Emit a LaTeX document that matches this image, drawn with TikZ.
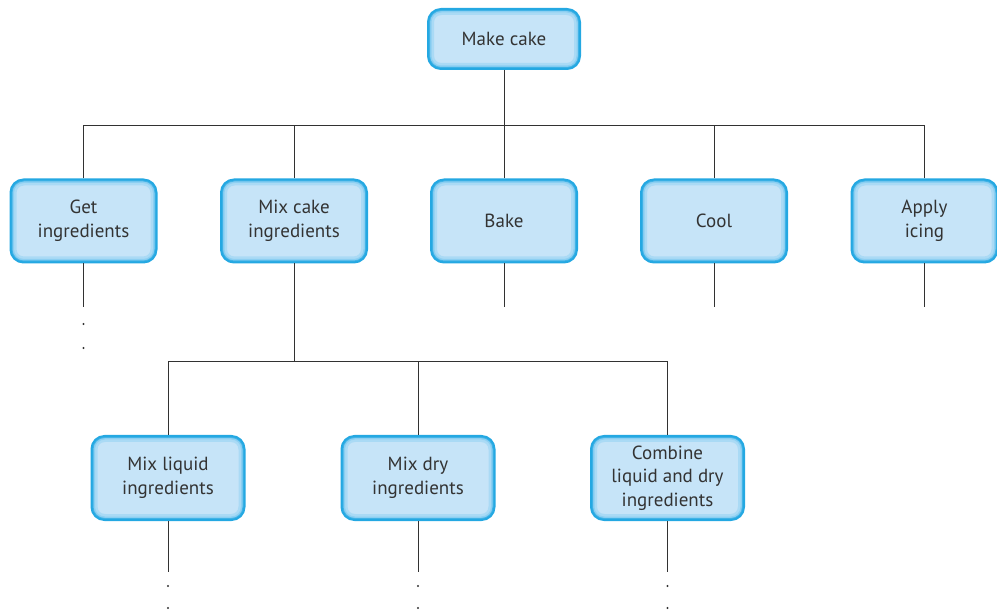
\documentclass[tikz,border=0pt]{standalone}
\usepackage{fontspec}
\setmainfont{PT Sans}
\definecolor{boxfill}{RGB}{198,228,248}
\definecolor{boxedge}{RGB}{36,168,226}
\definecolor{boxglow}{RGB}{120,200,240}
\definecolor{linecol}{RGB}{50,50,50}
\begin{document}
\begin{tikzpicture}[x=1pt,y=-1pt,
  taskbox/.style={draw=boxedge, line width=2pt, fill=boxfill, rounded corners=13pt,
    minimum width=146pt, minimum height=83pt, align=center, inner sep=2pt,
    font=\fontsize{19}{23.5}\selectfont, text=black!80,
    path picture={
      \draw[boxglow, opacity=0.35, line width=12pt, rounded corners=13pt]
        (path picture bounding box.south west) rectangle (path picture bounding box.north east);
      \draw[boxglow, opacity=0.6, line width=7pt, rounded corners=13pt]
        (path picture bounding box.south west) rectangle (path picture bounding box.north east);
      \draw[boxedge, opacity=0.7, line width=4pt, rounded corners=13pt]
        (path picture bounding box.south west) rectangle (path picture bounding box.north east);
    }},
  link/.style={draw=linecol, line width=0.9pt},
  dotmark/.style={fill=linecol}
]
\useasboundingbox (0,0) rectangle (997,612);

% top
\node[taskbox, minimum width=152pt, minimum height=60pt] (top) at (504,39) {Make cake};

% row 1
\node[taskbox] (get) at (83.5,221) {Get\\ingredients};
\node[taskbox] (mix) at (294,221) {Mix cake\\ingredients};
\node[taskbox] (bake) at (504,221) {Bake};
\node[taskbox] (cool) at (714,221) {Cool};
\node[taskbox] (apply) at (924.5,221) {Apply\\icing};

% row 2
\node[taskbox, minimum width=153pt, minimum height=84pt] (liquid) at (168,478) {Mix liquid\\ingredients};
\node[taskbox, minimum width=153pt, minimum height=84pt] (dry) at (418,478) {Mix dry\\ingredients};
\node[taskbox, minimum width=153pt, minimum height=84pt] (combine) at (667.5,478) {Combine\\liquid and dry\\ingredients};

% connectors level 1
\coordinate (bus1) at (504,125);
\draw[link] (top.south) -- (bus1);
\draw[link] (get.north |- bus1) -- (apply.north |- bus1);
\foreach \n in {get,mix,bake,cool,apply}{
  \draw[link] (\n.north) -- (\n.north |- bus1);
}

% stubs below row 1
\coordinate (getend) at (83.5,307);
\coordinate (bakeend) at (504,307);
\coordinate (coolend) at (714,307);
\coordinate (applyend) at (924.5,307);
\draw[link] (get.south) -- (getend);
\draw[link] (bake.south) -- (bakeend);
\draw[link] (cool.south) -- (coolend);
\draw[link] (apply.south) -- (applyend);
\fill[dotmark] (83.5,324) circle (1.1pt);
\fill[dotmark] (83.5,348) circle (1.1pt);

% connectors level 2
\coordinate (bus2) at (294,361);
\draw[link] (mix.south) -- (bus2);
\draw[link] (liquid.north |- bus2) -- (combine.north |- bus2);
\foreach \n in {liquid,dry,combine}{
  \draw[link] (\n.north) -- (\n.north |- bus2);
}

% stubs below row 2
\coordinate (liquidend) at (168,572);
\coordinate (dryend) at (418,572);
\coordinate (combineend) at (667.5,572);
\draw[link] (liquid.south) -- (liquidend);
\draw[link] (dry.south) -- (dryend);
\draw[link] (combine.south) -- (combineend);
\foreach \x in {168,418,667.5}{
  \fill[dotmark] (\x,586) circle (1.1pt);
  \fill[dotmark] (\x,608) circle (1.1pt);
}
\end{tikzpicture}
\end{document}
